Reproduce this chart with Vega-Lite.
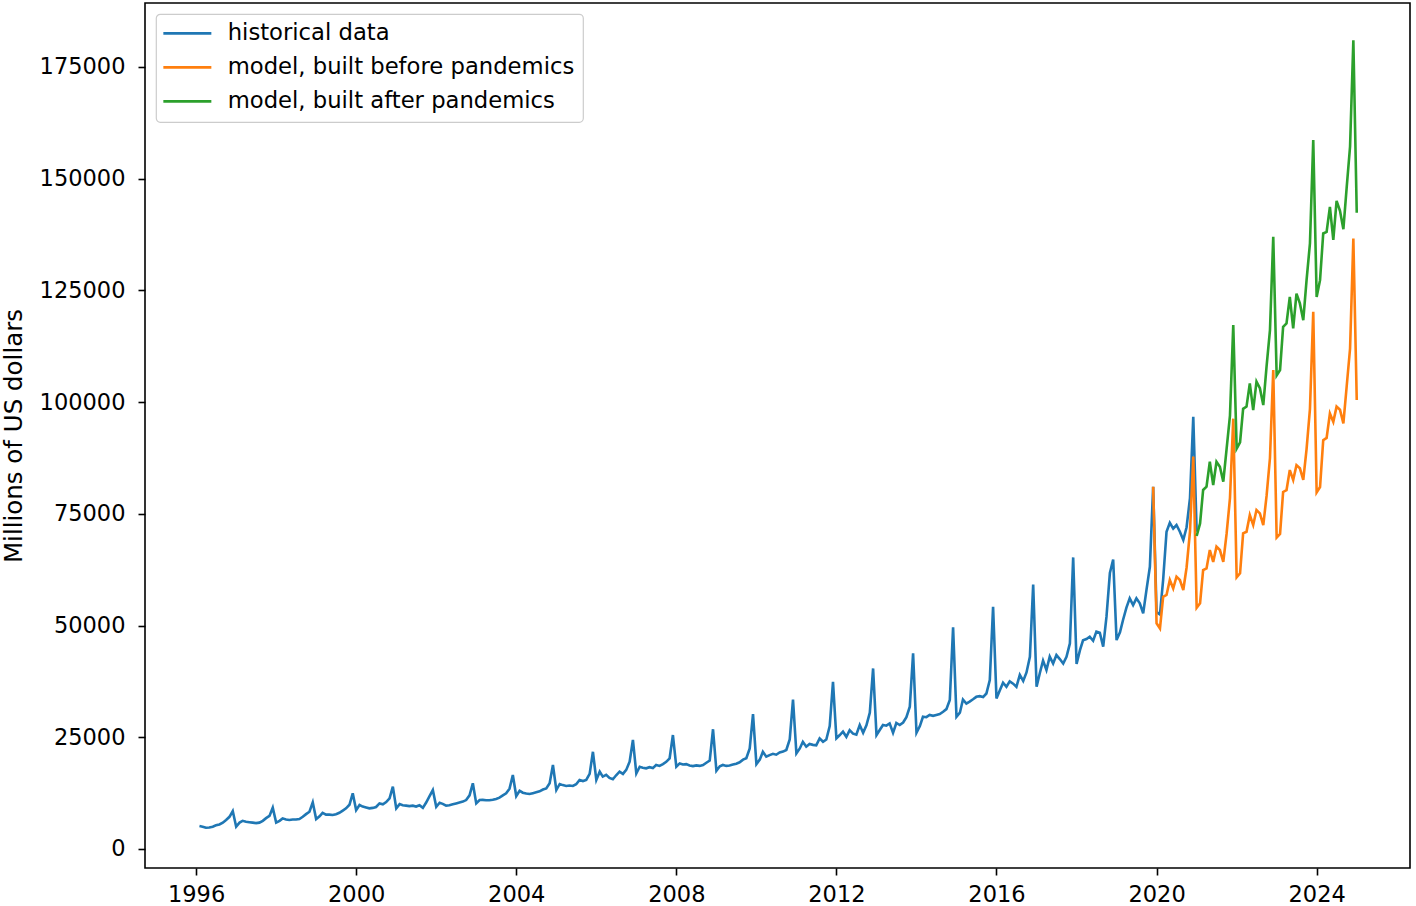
{
"$schema": "https://vega.github.io/schema/vega-lite/v6.json",
"width": 1265, "height": 865,
"autosize": {"type": "none"},
"padding": {"left": 145, "top": 3, "right": 6, "bottom": 38},
"background": "white",
"config": {"view": {"stroke": "black", "strokeWidth": 1.6}, "font": "DejaVu Sans", "legend": {"strokeWidth": 1.2}},
"data": {"values": [
{"date":"1996-02-01","value":5150,"series":"historical data"},{"date":"1996-03-01","value":5000,"series":"historical data"},{"date":"1996-04-01","value":4750,"series":"historical data"},{"date":"1996-05-01","value":4800,"series":"historical data"},{"date":"1996-06-01","value":5000,"series":"historical data"},{"date":"1996-07-01","value":5300,"series":"historical data"},{"date":"1996-08-01","value":5500,"series":"historical data"},{"date":"1996-09-01","value":5900,"series":"historical data"},{"date":"1996-10-01","value":6500,"series":"historical data"},{"date":"1996-11-01","value":7200,"series":"historical data"},{"date":"1996-12-01","value":8500,"series":"historical data"},
{"date":"1997-01-01","value":5000,"series":"historical data"},{"date":"1997-02-01","value":5900,"series":"historical data"},{"date":"1997-03-01","value":6300,"series":"historical data"},{"date":"1997-04-01","value":6100,"series":"historical data"},{"date":"1997-05-01","value":6000,"series":"historical data"},{"date":"1997-06-01","value":5900,"series":"historical data"},{"date":"1997-07-01","value":5800,"series":"historical data"},{"date":"1997-08-01","value":5900,"series":"historical data"},{"date":"1997-09-01","value":6300,"series":"historical data"},{"date":"1997-10-01","value":6900,"series":"historical data"},{"date":"1997-11-01","value":7400,"series":"historical data"},{"date":"1997-12-01","value":9250,"series":"historical data"},
{"date":"1998-01-01","value":5900,"series":"historical data"},{"date":"1998-02-01","value":6300,"series":"historical data"},{"date":"1998-03-01","value":6850,"series":"historical data"},{"date":"1998-04-01","value":6600,"series":"historical data"},{"date":"1998-05-01","value":6500,"series":"historical data"},{"date":"1998-06-01","value":6600,"series":"historical data"},{"date":"1998-07-01","value":6600,"series":"historical data"},{"date":"1998-08-01","value":6700,"series":"historical data"},{"date":"1998-09-01","value":7200,"series":"historical data"},{"date":"1998-10-01","value":7800,"series":"historical data"},{"date":"1998-11-01","value":8350,"series":"historical data"},{"date":"1998-12-01","value":10450,"series":"historical data"},
{"date":"1999-01-01","value":6700,"series":"historical data"},{"date":"1999-02-01","value":7300,"series":"historical data"},{"date":"1999-03-01","value":8100,"series":"historical data"},{"date":"1999-04-01","value":7700,"series":"historical data"},{"date":"1999-05-01","value":7700,"series":"historical data"},{"date":"1999-06-01","value":7600,"series":"historical data"},{"date":"1999-07-01","value":7800,"series":"historical data"},{"date":"1999-08-01","value":8100,"series":"historical data"},{"date":"1999-09-01","value":8600,"series":"historical data"},{"date":"1999-10-01","value":9100,"series":"historical data"},{"date":"1999-11-01","value":9900,"series":"historical data"},{"date":"1999-12-01","value":12450,"series":"historical data"},
{"date":"2000-01-01","value":8700,"series":"historical data"},{"date":"2000-02-01","value":9850,"series":"historical data"},{"date":"2000-03-01","value":9500,"series":"historical data"},{"date":"2000-04-01","value":9300,"series":"historical data"},{"date":"2000-05-01","value":9100,"series":"historical data"},{"date":"2000-06-01","value":9200,"series":"historical data"},{"date":"2000-07-01","value":9400,"series":"historical data"},{"date":"2000-08-01","value":10200,"series":"historical data"},{"date":"2000-09-01","value":10000,"series":"historical data"},{"date":"2000-10-01","value":10500,"series":"historical data"},{"date":"2000-11-01","value":11350,"series":"historical data"},{"date":"2000-12-01","value":13950,"series":"historical data"},
{"date":"2001-01-01","value":9100,"series":"historical data"},{"date":"2001-02-01","value":10050,"series":"historical data"},{"date":"2001-03-01","value":9800,"series":"historical data"},{"date":"2001-04-01","value":9700,"series":"historical data"},{"date":"2001-05-01","value":9600,"series":"historical data"},{"date":"2001-06-01","value":9700,"series":"historical data"},{"date":"2001-07-01","value":9500,"series":"historical data"},{"date":"2001-08-01","value":9800,"series":"historical data"},{"date":"2001-09-01","value":9200,"series":"historical data"},{"date":"2001-10-01","value":10400,"series":"historical data"},{"date":"2001-11-01","value":11850,"series":"historical data"},{"date":"2001-12-01","value":13200,"series":"historical data"},
{"date":"2002-01-01","value":9450,"series":"historical data"},{"date":"2002-02-01","value":10350,"series":"historical data"},{"date":"2002-03-01","value":10100,"series":"historical data"},{"date":"2002-04-01","value":9700,"series":"historical data"},{"date":"2002-05-01","value":9800,"series":"historical data"},{"date":"2002-06-01","value":10000,"series":"historical data"},{"date":"2002-07-01","value":10200,"series":"historical data"},{"date":"2002-08-01","value":10400,"series":"historical data"},{"date":"2002-09-01","value":10600,"series":"historical data"},{"date":"2002-10-01","value":10950,"series":"historical data"},{"date":"2002-11-01","value":12000,"series":"historical data"},{"date":"2002-12-01","value":14700,"series":"historical data"},
{"date":"2003-01-01","value":10200,"series":"historical data"},{"date":"2003-02-01","value":10950,"series":"historical data"},{"date":"2003-03-01","value":11000,"series":"historical data"},{"date":"2003-04-01","value":10900,"series":"historical data"},{"date":"2003-05-01","value":10900,"series":"historical data"},{"date":"2003-06-01","value":11000,"series":"historical data"},{"date":"2003-07-01","value":11200,"series":"historical data"},{"date":"2003-08-01","value":11500,"series":"historical data"},{"date":"2003-09-01","value":12000,"series":"historical data"},{"date":"2003-10-01","value":12450,"series":"historical data"},{"date":"2003-11-01","value":13500,"series":"historical data"},{"date":"2003-12-01","value":16550,"series":"historical data"},
{"date":"2004-01-01","value":11850,"series":"historical data"},{"date":"2004-02-01","value":13050,"series":"historical data"},{"date":"2004-03-01","value":12600,"series":"historical data"},{"date":"2004-04-01","value":12400,"series":"historical data"},{"date":"2004-05-01","value":12300,"series":"historical data"},{"date":"2004-06-01","value":12500,"series":"historical data"},{"date":"2004-07-01","value":12700,"series":"historical data"},{"date":"2004-08-01","value":12900,"series":"historical data"},{"date":"2004-09-01","value":13300,"series":"historical data"},{"date":"2004-10-01","value":13550,"series":"historical data"},{"date":"2004-11-01","value":14700,"series":"historical data"},{"date":"2004-12-01","value":18800,"series":"historical data"},
{"date":"2005-01-01","value":13200,"series":"historical data"},{"date":"2005-02-01","value":14550,"series":"historical data"},{"date":"2005-03-01","value":14300,"series":"historical data"},{"date":"2005-04-01","value":14100,"series":"historical data"},{"date":"2005-05-01","value":14200,"series":"historical data"},{"date":"2005-06-01","value":14100,"series":"historical data"},{"date":"2005-07-01","value":14500,"series":"historical data"},{"date":"2005-08-01","value":15450,"series":"historical data"},{"date":"2005-09-01","value":15200,"series":"historical data"},{"date":"2005-10-01","value":15450,"series":"historical data"},{"date":"2005-11-01","value":16800,"series":"historical data"},{"date":"2005-12-01","value":21750,"series":"historical data"},
{"date":"2006-01-01","value":15450,"series":"historical data"},{"date":"2006-02-01","value":17300,"series":"historical data"},{"date":"2006-03-01","value":16200,"series":"historical data"},{"date":"2006-04-01","value":16600,"series":"historical data"},{"date":"2006-05-01","value":15900,"series":"historical data"},{"date":"2006-06-01","value":15600,"series":"historical data"},{"date":"2006-07-01","value":16500,"series":"historical data"},{"date":"2006-08-01","value":17300,"series":"historical data"},{"date":"2006-09-01","value":16800,"series":"historical data"},{"date":"2006-10-01","value":17700,"series":"historical data"},{"date":"2006-11-01","value":19550,"series":"historical data"},{"date":"2006-12-01","value":24400,"series":"historical data"},
{"date":"2007-01-01","value":16900,"series":"historical data"},{"date":"2007-02-01","value":18400,"series":"historical data"},{"date":"2007-03-01","value":18200,"series":"historical data"},{"date":"2007-04-01","value":18050,"series":"historical data"},{"date":"2007-05-01","value":18300,"series":"historical data"},{"date":"2007-06-01","value":18100,"series":"historical data"},{"date":"2007-07-01","value":18800,"series":"historical data"},{"date":"2007-08-01","value":18600,"series":"historical data"},{"date":"2007-09-01","value":19000,"series":"historical data"},{"date":"2007-10-01","value":19500,"series":"historical data"},{"date":"2007-11-01","value":20300,"series":"historical data"},{"date":"2007-12-01","value":25500,"series":"historical data"},
{"date":"2008-01-01","value":18400,"series":"historical data"},{"date":"2008-02-01","value":19150,"series":"historical data"},{"date":"2008-03-01","value":18900,"series":"historical data"},{"date":"2008-04-01","value":19000,"series":"historical data"},{"date":"2008-05-01","value":18700,"series":"historical data"},{"date":"2008-06-01","value":18550,"series":"historical data"},{"date":"2008-07-01","value":18700,"series":"historical data"},{"date":"2008-08-01","value":18600,"series":"historical data"},{"date":"2008-09-01","value":18800,"series":"historical data"},{"date":"2008-10-01","value":19300,"series":"historical data"},{"date":"2008-11-01","value":19800,"series":"historical data"},{"date":"2008-12-01","value":26800,"series":"historical data"},
{"date":"2009-01-01","value":17500,"series":"historical data"},{"date":"2009-02-01","value":18500,"series":"historical data"},{"date":"2009-03-01","value":18800,"series":"historical data"},{"date":"2009-04-01","value":18600,"series":"historical data"},{"date":"2009-05-01","value":18700,"series":"historical data"},{"date":"2009-06-01","value":18900,"series":"historical data"},{"date":"2009-07-01","value":19100,"series":"historical data"},{"date":"2009-08-01","value":19400,"series":"historical data"},{"date":"2009-09-01","value":20000,"series":"historical data"},{"date":"2009-10-01","value":20300,"series":"historical data"},{"date":"2009-11-01","value":22500,"series":"historical data"},{"date":"2009-12-01","value":30200,"series":"historical data"},
{"date":"2010-01-01","value":19000,"series":"historical data"},{"date":"2010-02-01","value":20000,"series":"historical data"},{"date":"2010-03-01","value":21750,"series":"historical data"},{"date":"2010-04-01","value":20650,"series":"historical data"},{"date":"2010-05-01","value":21000,"series":"historical data"},{"date":"2010-06-01","value":21300,"series":"historical data"},{"date":"2010-07-01","value":21100,"series":"historical data"},{"date":"2010-08-01","value":21600,"series":"historical data"},{"date":"2010-09-01","value":21800,"series":"historical data"},{"date":"2010-10-01","value":22150,"series":"historical data"},{"date":"2010-11-01","value":24500,"series":"historical data"},{"date":"2010-12-01","value":33450,"series":"historical data"},
{"date":"2011-01-01","value":21400,"series":"historical data"},{"date":"2011-02-01","value":22500,"series":"historical data"},{"date":"2011-03-01","value":24000,"series":"historical data"},{"date":"2011-04-01","value":22900,"series":"historical data"},{"date":"2011-05-01","value":23500,"series":"historical data"},{"date":"2011-06-01","value":23300,"series":"historical data"},{"date":"2011-07-01","value":23200,"series":"historical data"},{"date":"2011-08-01","value":24750,"series":"historical data"},{"date":"2011-09-01","value":24000,"series":"historical data"},{"date":"2011-10-01","value":24500,"series":"historical data"},{"date":"2011-11-01","value":27500,"series":"historical data"},{"date":"2011-12-01","value":37400,"series":"historical data"},
{"date":"2012-01-01","value":24750,"series":"historical data"},{"date":"2012-02-01","value":25500,"series":"historical data"},{"date":"2012-03-01","value":26250,"series":"historical data"},{"date":"2012-04-01","value":25100,"series":"historical data"},{"date":"2012-05-01","value":26600,"series":"historical data"},{"date":"2012-06-01","value":25800,"series":"historical data"},{"date":"2012-07-01","value":25600,"series":"historical data"},{"date":"2012-08-01","value":27750,"series":"historical data"},{"date":"2012-09-01","value":26000,"series":"historical data"},{"date":"2012-10-01","value":27700,"series":"historical data"},{"date":"2012-11-01","value":30500,"series":"historical data"},{"date":"2012-12-01","value":40400,"series":"historical data"},
{"date":"2013-01-01","value":25500,"series":"historical data"},{"date":"2013-02-01","value":26700,"series":"historical data"},{"date":"2013-03-01","value":27750,"series":"historical data"},{"date":"2013-04-01","value":27600,"series":"historical data"},{"date":"2013-05-01","value":28100,"series":"historical data"},{"date":"2013-06-01","value":26000,"series":"historical data"},{"date":"2013-07-01","value":28200,"series":"historical data"},{"date":"2013-08-01","value":27750,"series":"historical data"},{"date":"2013-09-01","value":28300,"series":"historical data"},{"date":"2013-10-01","value":29500,"series":"historical data"},{"date":"2013-11-01","value":31850,"series":"historical data"},{"date":"2013-12-01","value":43800,"series":"historical data"},
{"date":"2014-01-01","value":26000,"series":"historical data"},{"date":"2014-02-01","value":27500,"series":"historical data"},{"date":"2014-03-01","value":29600,"series":"historical data"},{"date":"2014-04-01","value":29500,"series":"historical data"},{"date":"2014-05-01","value":30000,"series":"historical data"},{"date":"2014-06-01","value":29800,"series":"historical data"},{"date":"2014-07-01","value":30000,"series":"historical data"},{"date":"2014-08-01","value":30200,"series":"historical data"},{"date":"2014-09-01","value":30700,"series":"historical data"},{"date":"2014-10-01","value":31300,"series":"historical data"},{"date":"2014-11-01","value":33350,"series":"historical data"},{"date":"2014-12-01","value":49600,"series":"historical data"},
{"date":"2015-01-01","value":29600,"series":"historical data"},{"date":"2015-02-01","value":30500,"series":"historical data"},{"date":"2015-03-01","value":33450,"series":"historical data"},{"date":"2015-04-01","value":32550,"series":"historical data"},{"date":"2015-05-01","value":33000,"series":"historical data"},{"date":"2015-06-01","value":33500,"series":"historical data"},{"date":"2015-07-01","value":34050,"series":"historical data"},{"date":"2015-08-01","value":34200,"series":"historical data"},{"date":"2015-09-01","value":34000,"series":"historical data"},{"date":"2015-10-01","value":34800,"series":"historical data"},{"date":"2015-11-01","value":37800,"series":"historical data"},{"date":"2015-12-01","value":54200,"series":"historical data"},
{"date":"2016-01-01","value":33700,"series":"historical data"},{"date":"2016-02-01","value":35500,"series":"historical data"},{"date":"2016-03-01","value":37200,"series":"historical data"},{"date":"2016-04-01","value":36300,"series":"historical data"},{"date":"2016-05-01","value":37500,"series":"historical data"},{"date":"2016-06-01","value":37000,"series":"historical data"},{"date":"2016-07-01","value":36300,"series":"historical data"},{"date":"2016-08-01","value":38950,"series":"historical data"},{"date":"2016-09-01","value":37600,"series":"historical data"},{"date":"2016-10-01","value":39500,"series":"historical data"},{"date":"2016-11-01","value":43000,"series":"historical data"},{"date":"2016-12-01","value":59200,"series":"historical data"},
{"date":"2017-01-01","value":36300,"series":"historical data"},{"date":"2017-02-01","value":39500,"series":"historical data"},{"date":"2017-03-01","value":42150,"series":"historical data"},{"date":"2017-04-01","value":40050,"series":"historical data"},{"date":"2017-05-01","value":43050,"series":"historical data"},{"date":"2017-06-01","value":41500,"series":"historical data"},{"date":"2017-07-01","value":43400,"series":"historical data"},{"date":"2017-08-01","value":42500,"series":"historical data"},{"date":"2017-09-01","value":41500,"series":"historical data"},{"date":"2017-10-01","value":43000,"series":"historical data"},{"date":"2017-11-01","value":46000,"series":"historical data"},{"date":"2017-12-01","value":65250,"series":"historical data"},
{"date":"2018-01-01","value":41400,"series":"historical data"},{"date":"2018-02-01","value":44500,"series":"historical data"},{"date":"2018-03-01","value":46700,"series":"historical data"},{"date":"2018-04-01","value":47000,"series":"historical data"},{"date":"2018-05-01","value":47500,"series":"historical data"},{"date":"2018-06-01","value":46600,"series":"historical data"},{"date":"2018-07-01","value":48650,"series":"historical data"},{"date":"2018-08-01","value":48400,"series":"historical data"},{"date":"2018-09-01","value":45300,"series":"historical data"},{"date":"2018-10-01","value":52000,"series":"historical data"},{"date":"2018-11-01","value":61750,"series":"historical data"},{"date":"2018-12-01","value":64800,"series":"historical data"},
{"date":"2019-01-01","value":46750,"series":"historical data"},{"date":"2019-02-01","value":48500,"series":"historical data"},{"date":"2019-03-01","value":51250,"series":"historical data"},{"date":"2019-04-01","value":54000,"series":"historical data"},{"date":"2019-05-01","value":56100,"series":"historical data"},{"date":"2019-06-01","value":54600,"series":"historical data"},{"date":"2019-07-01","value":56100,"series":"historical data"},{"date":"2019-08-01","value":55000,"series":"historical data"},{"date":"2019-09-01","value":52750,"series":"historical data"},{"date":"2019-10-01","value":58000,"series":"historical data"},{"date":"2019-11-01","value":63150,"series":"historical data"},{"date":"2019-12-01","value":81070,"series":"historical data"},
{"date":"2020-01-01","value":53000,"series":"historical data"},{"date":"2020-02-01","value":52500,"series":"historical data"},{"date":"2020-03-01","value":60200,"series":"historical data"},{"date":"2020-04-01","value":71000,"series":"historical data"},{"date":"2020-05-01","value":73000,"series":"historical data"},{"date":"2020-06-01","value":71700,"series":"historical data"},{"date":"2020-07-01","value":72500,"series":"historical data"},{"date":"2020-08-01","value":71000,"series":"historical data"},{"date":"2020-09-01","value":69150,"series":"historical data"},{"date":"2020-10-01","value":72000,"series":"historical data"},{"date":"2020-11-01","value":78500,"series":"historical data"},{"date":"2020-12-01","value":96700,"series":"historical data"},
{"date":"2021-01-01","value":71000,"series":"historical data"},
{"date":"2019-12-01","value":81070,"series":"model, built before pandemics"},
{"date":"2020-01-01","value":50500,"series":"model, built before pandemics"},{"date":"2020-02-01","value":49350,"series":"model, built before pandemics"},{"date":"2020-03-01","value":56450,"series":"model, built before pandemics"},{"date":"2020-04-01","value":56850,"series":"model, built before pandemics"},{"date":"2020-05-01","value":60200,"series":"model, built before pandemics"},{"date":"2020-06-01","value":58300,"series":"model, built before pandemics"},{"date":"2020-07-01","value":60950,"series":"model, built before pandemics"},{"date":"2020-08-01","value":60200,"series":"model, built before pandemics"},{"date":"2020-09-01","value":57950,"series":"model, built before pandemics"},{"date":"2020-10-01","value":63000,"series":"model, built before pandemics"},{"date":"2020-11-01","value":71000,"series":"model, built before pandemics"},{"date":"2020-12-01","value":87800,"series":"model, built before pandemics"},
{"date":"2021-01-01","value":54000,"series":"model, built before pandemics"},{"date":"2021-02-01","value":55000,"series":"model, built before pandemics"},{"date":"2021-03-01","value":62400,"series":"model, built before pandemics"},{"date":"2021-04-01","value":62800,"series":"model, built before pandemics"},{"date":"2021-05-01","value":66900,"series":"model, built before pandemics"},{"date":"2021-06-01","value":64250,"series":"model, built before pandemics"},{"date":"2021-07-01","value":67650,"series":"model, built before pandemics"},{"date":"2021-08-01","value":66900,"series":"model, built before pandemics"},{"date":"2021-09-01","value":64250,"series":"model, built before pandemics"},{"date":"2021-10-01","value":70500,"series":"model, built before pandemics"},{"date":"2021-11-01","value":78500,"series":"model, built before pandemics"},{"date":"2021-12-01","value":96300,"series":"model, built before pandemics"},
{"date":"2022-01-01","value":60800,"series":"model, built before pandemics"},{"date":"2022-02-01","value":61700,"series":"model, built before pandemics"},{"date":"2022-03-01","value":70650,"series":"model, built before pandemics"},{"date":"2022-04-01","value":71000,"series":"model, built before pandemics"},{"date":"2022-05-01","value":74750,"series":"model, built before pandemics"},{"date":"2022-06-01","value":72500,"series":"model, built before pandemics"},{"date":"2022-07-01","value":75850,"series":"model, built before pandemics"},{"date":"2022-08-01","value":75100,"series":"model, built before pandemics"},{"date":"2022-09-01","value":72500,"series":"model, built before pandemics"},{"date":"2022-10-01","value":79000,"series":"model, built before pandemics"},{"date":"2022-11-01","value":87500,"series":"model, built before pandemics"},{"date":"2022-12-01","value":107200,"series":"model, built before pandemics"},
{"date":"2023-01-01","value":69700,"series":"model, built before pandemics"},{"date":"2023-02-01","value":70500,"series":"model, built before pandemics"},{"date":"2023-03-01","value":79900,"series":"model, built before pandemics"},{"date":"2023-04-01","value":80300,"series":"model, built before pandemics"},{"date":"2023-05-01","value":84800,"series":"model, built before pandemics"},{"date":"2023-06-01","value":82600,"series":"model, built before pandemics"},{"date":"2023-07-01","value":85900,"series":"model, built before pandemics"},{"date":"2023-08-01","value":85200,"series":"model, built before pandemics"},{"date":"2023-09-01","value":82600,"series":"model, built before pandemics"},{"date":"2023-10-01","value":89500,"series":"model, built before pandemics"},{"date":"2023-11-01","value":98500,"series":"model, built before pandemics"},{"date":"2023-12-01","value":120200,"series":"model, built before pandemics"},
{"date":"2024-01-01","value":79800,"series":"model, built before pandemics"},{"date":"2024-02-01","value":81000,"series":"model, built before pandemics"},{"date":"2024-03-01","value":91500,"series":"model, built before pandemics"},{"date":"2024-04-01","value":92000,"series":"model, built before pandemics"},{"date":"2024-05-01","value":97450,"series":"model, built before pandemics"},{"date":"2024-06-01","value":95600,"series":"model, built before pandemics"},{"date":"2024-07-01","value":99000,"series":"model, built before pandemics"},{"date":"2024-08-01","value":98300,"series":"model, built before pandemics"},{"date":"2024-09-01","value":95250,"series":"model, built before pandemics"},{"date":"2024-10-01","value":103500,"series":"model, built before pandemics"},{"date":"2024-11-01","value":112000,"series":"model, built before pandemics"},{"date":"2024-12-01","value":136600,"series":"model, built before pandemics"},
{"date":"2025-01-01","value":100500,"series":"model, built before pandemics"},
{"date":"2021-01-01","value":70050,"series":"model, built after pandemics"},{"date":"2021-02-01","value":72850,"series":"model, built after pandemics"},{"date":"2021-03-01","value":80350,"series":"model, built after pandemics"},{"date":"2021-04-01","value":81070,"series":"model, built after pandemics"},{"date":"2021-05-01","value":86650,"series":"model, built after pandemics"},{"date":"2021-06-01","value":81450,"series":"model, built after pandemics"},{"date":"2021-07-01","value":86650,"series":"model, built after pandemics"},{"date":"2021-08-01","value":85550,"series":"model, built after pandemics"},{"date":"2021-09-01","value":82200,"series":"model, built after pandemics"},{"date":"2021-10-01","value":89500,"series":"model, built after pandemics"},{"date":"2021-11-01","value":97000,"series":"model, built after pandemics"},{"date":"2021-12-01","value":117250,"series":"model, built after pandemics"},
{"date":"2022-01-01","value":89600,"series":"model, built after pandemics"},{"date":"2022-02-01","value":91000,"series":"model, built after pandemics"},{"date":"2022-03-01","value":98500,"series":"model, built after pandemics"},{"date":"2022-04-01","value":99000,"series":"model, built after pandemics"},{"date":"2022-05-01","value":104200,"series":"model, built after pandemics"},{"date":"2022-06-01","value":98200,"series":"model, built after pandemics"},{"date":"2022-07-01","value":104600,"series":"model, built after pandemics"},{"date":"2022-08-01","value":103100,"series":"model, built after pandemics"},{"date":"2022-09-01","value":99350,"series":"model, built after pandemics"},{"date":"2022-10-01","value":108000,"series":"model, built after pandemics"},{"date":"2022-11-01","value":116100,"series":"model, built after pandemics"},{"date":"2022-12-01","value":137000,"series":"model, built after pandemics"},
{"date":"2023-01-01","value":106000,"series":"model, built after pandemics"},{"date":"2023-02-01","value":107200,"series":"model, built after pandemics"},{"date":"2023-03-01","value":116850,"series":"model, built after pandemics"},{"date":"2023-04-01","value":117600,"series":"model, built after pandemics"},{"date":"2023-05-01","value":123550,"series":"model, built after pandemics"},{"date":"2023-06-01","value":116500,"series":"model, built after pandemics"},{"date":"2023-07-01","value":124300,"series":"model, built after pandemics"},{"date":"2023-08-01","value":122100,"series":"model, built after pandemics"},{"date":"2023-09-01","value":118350,"series":"model, built after pandemics"},{"date":"2023-10-01","value":127300,"series":"model, built after pandemics"},{"date":"2023-11-01","value":135550,"series":"model, built after pandemics"},{"date":"2023-12-01","value":158650,"series":"model, built after pandemics"},
{"date":"2024-01-01","value":123550,"series":"model, built after pandemics"},{"date":"2024-02-01","value":127300,"series":"model, built after pandemics"},{"date":"2024-03-01","value":137750,"series":"model, built after pandemics"},{"date":"2024-04-01","value":138100,"series":"model, built after pandemics"},{"date":"2024-05-01","value":143700,"series":"model, built after pandemics"},{"date":"2024-06-01","value":136300,"series":"model, built after pandemics"},{"date":"2024-07-01","value":145050,"series":"model, built after pandemics"},{"date":"2024-08-01","value":142800,"series":"model, built after pandemics"},{"date":"2024-09-01","value":138700,"series":"model, built after pandemics"},{"date":"2024-10-01","value":148000,"series":"model, built after pandemics"},{"date":"2024-11-01","value":157200,"series":"model, built after pandemics"},{"date":"2024-12-01","value":181000,"series":"model, built after pandemics"},
{"date":"2025-01-01","value":142400,"series":"model, built after pandemics"}
]},
"mark": {"type": "line", "strokeWidth": 2.6, "clip": true},
"encoding": {
"x": {"field": "date", "type": "temporal",
"scale": {"type": "utc", "domain": [{"year": 1994, "month": 9, "date": 22, "utc": true}, {"year": 2026, "month": 5, "date": 2, "utc": true}]},
"axis": {"format": "%Y", "tickCount": {"interval": "year", "step": 4}, "grid": false, "domain": false, "tickColor": "black", "tickWidth": 1.6, "tickSize": 7, "labelFontSize": 22.5, "labelColor": "black", "labelPadding": 8, "labelFlush": false, "labelOverlap": false, "title": null}},
"y": {"field": "value", "type": "quantitative",
"scale": {"domain": [-4252, 189320], "nice": false, "zero": false},
"axis": {"values": [0, 25000, 50000, 75000, 100000, 125000, 150000, 175000], "format": "d", "grid": false, "domain": false, "tickColor": "black", "tickWidth": 1.6, "tickSize": 7, "labelFontSize": 22.5, "labelColor": "black", "labelPadding": 13, "title": "Millions of US dollars", "titleFontSize": 24.5, "titleFontWeight": "normal", "titleColor": "black", "titlePadding": 13}},
"color": {"field": "series", "type": "nominal",
"scale": {"domain": ["historical data", "model, built before pandemics", "model, built after pandemics"], "range": ["#1f77b4", "#ff7f0e", "#2ca02c"]},
"legend": {"orient": "none", "legendX": 11, "legendY": 11, "title": null, "fillColor": "white", "strokeColor": "#cccccc", "cornerRadius": 4, "padding": 8, "symbolType": "M-4.8,0H4.8", "symbolSize": 100, "symbolStrokeWidth": 2.6, "symbolOffset": 12, "labelFontSize": 22.7, "labelColor": "black", "labelOffset": 29, "rowPadding": 10, "labelLimit": 700}}
}
}
